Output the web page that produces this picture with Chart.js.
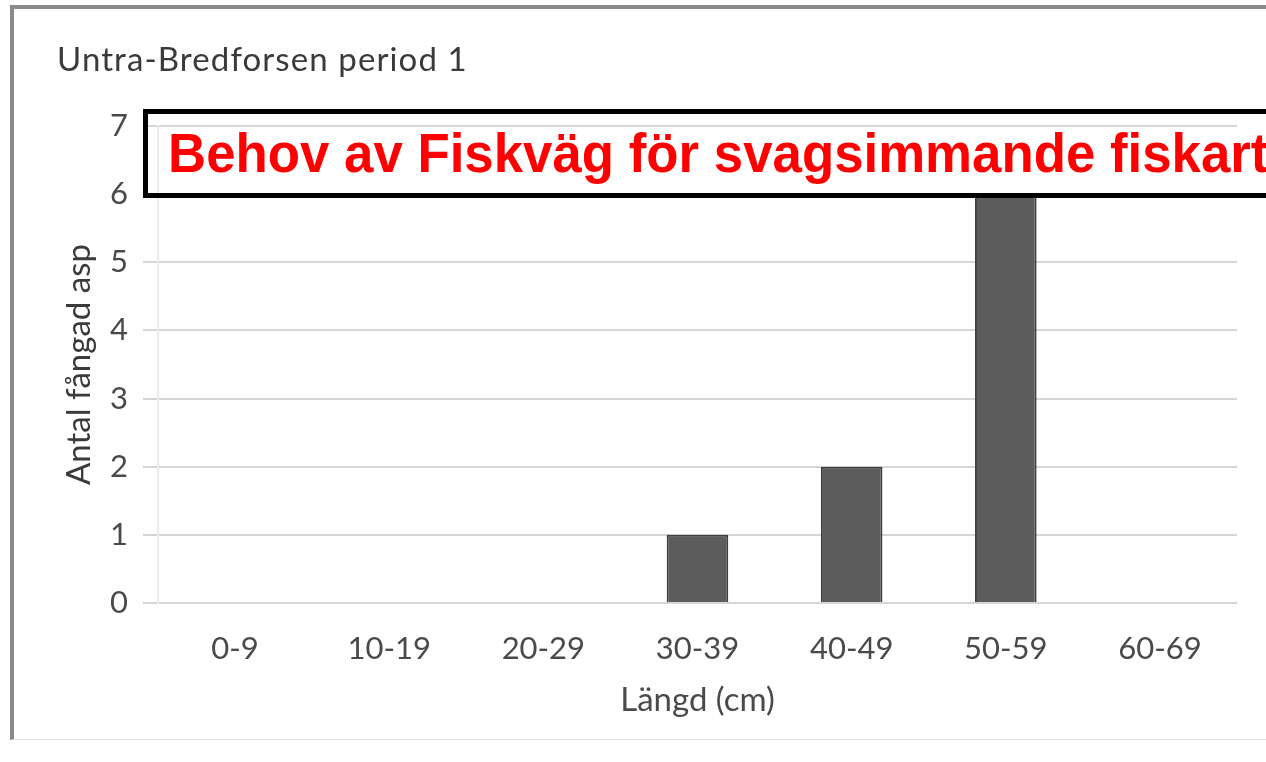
<!DOCTYPE html>
<html>
<head>
<meta charset="utf-8">
<script src="https://cdn.jsdelivr.net/npm/chart.js@4.4.1/dist/chart.umd.min.js"></script>
<style>
  html, body { margin: 0; padding: 0; background: #ffffff; overflow: hidden; }
  #wrap { position: relative; width: 1266px; height: 762px; overflow: hidden; background: #fff; }
  #chart { position: absolute; left: 0; top: 0; }
  #frame { position: absolute; left: 10px; top: 5px; width: 1300px; height: 730px;
           border-top: 4px solid #8a8a8a; border-left: 4px solid #8a8a8a; border-bottom: 1px solid #e4e4e4; pointer-events: none; }
  #title { position: absolute; left: 57px; top: 38px; font-family: Lato, "Open Sans", sans-serif; font-size: 33px;
           letter-spacing: 1.1px; color: #3a3a3a; white-space: nowrap; }
  #banner { position: absolute; left: 143px; top: 109px; width: 1200px; height: 79px;
            border: 5px solid #000; background: transparent; }
  #bannerText { position: absolute; left: 20px; top: 12px; font-family: "Liberation Sans", Arial, sans-serif;
                font-weight: bold; font-size: 55px; color: #ff0000; white-space: nowrap;
                transform: scaleX(0.96); transform-origin: 0 0; line-height: 1; }
</style>
</head>
<body>
<div id="wrap">
  <canvas id="chart" width="1266" height="762"></canvas>
  <div id="frame"></div>
  <div id="title">Untra-Bredforsen period 1</div>
  <div id="banner"><span id="bannerText">Behov av Fiskväg för svagsimmande fiskarter</span></div>
</div>
<script>
const categories = ['0-9', '10-19', '20-29', '30-39', '40-49', '50-59', '60-69'];
const counts = [0, 0, 0, 1, 2, 6, 0];
const yTicks = [0, 1, 2, 3, 4, 5, 6, 7];
const yLabel = 'Antal fångad asp';
const xLabel = 'Längd (cm)';

const tickFont = { family: 'Lato, "Open Sans", sans-serif', size: 31 };
const titleFont = { family: 'Lato, "Open Sans", sans-serif', size: 33 };

new Chart(document.getElementById('chart'), {
  type: 'bar',
  data: {
    labels: categories,
    datasets: [{
      label: yLabel,
      data: counts,
      backgroundColor: '#5c5c5c',
      borderColor: '#3e3e3e',
      borderWidth: 2,
      barPercentage: 0.4,
      categoryPercentage: 1.0
    }]
  },
  options: {
    responsive: false,
    animation: false,
    layout: { padding: { left: 0, right: 29, top: 126, bottom: 0 } },
    plugins: { legend: { display: false }, tooltip: { enabled: false }, title: { display: false } },
    scales: {
      x: {
        afterFit: (s) => { s.height = 159; },
        grid: { display: false, drawTicks: false },
        border: { display: false },
        ticks: { font: tickFont, color: '#4a4a4a', padding: 27, maxRotation: 0, autoSkip: false },
        title: { display: true, text: xLabel, font: titleFont, color: '#4a4a4a', padding: { top: 0, bottom: 42 } }
      },
      y: {
        min: 0,
        max: yTicks[yTicks.length - 1],
        afterFit: (s) => { s.width = 158; },
        afterBuildTicks: (s) => { s.ticks = yTicks.map(v => ({ value: v })); },
        grid: { color: '#d6d6d6', lineWidth: 2, drawTicks: true, tickLength: 15 },
        border: { display: true, color: '#ececec', width: 2 },
        ticks: { font: tickFont, color: '#4a4a4a', padding: 15 },
        title: { display: true, text: yLabel, font: titleFont, color: '#3a3a3a', padding: { top: 60, bottom: 0 } }
      }
    }
  }
});
</script>
</body>
</html>
